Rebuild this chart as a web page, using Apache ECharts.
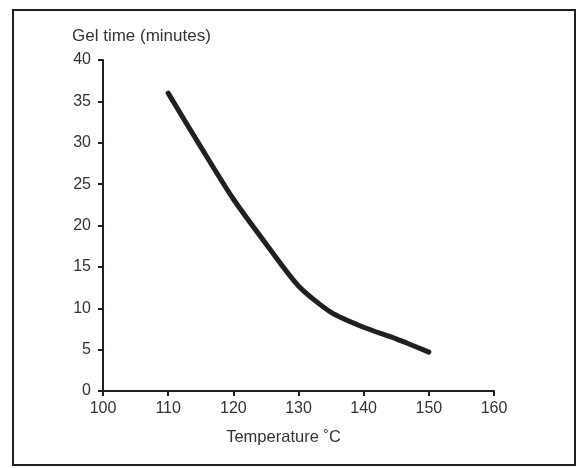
<!DOCTYPE html>
<html><head><meta charset="utf-8">
<script src="https://cdn.jsdelivr.net/npm/echarts@6/dist/echarts.min.js"></script>
<style>html,body{margin:0;padding:0;background:#fff}#c{width:579px;height:468px}</style>
</head><body><div id="c"></div>
<script>
const temperatures = [110, 115, 120, 125, 130, 135, 140, 145, 150];
const gelTimes = [36, 29.5, 23.2, 17.8, 12.7, 9.5, 7.7, 6.3, 4.7];
const xTitle = 'Temperature ˚C';
const yTitle = 'Gel time (minutes)';

const ink = '#231f20';
const textInk = '#333';
const font = '"Liberation Sans", Arial, sans-serif';
const chart = echarts.init(document.getElementById('c'));
chart.setOption({
  backgroundColor: '#fff',
  animation: false,
  title: { text: yTitle, left: 72, top: 28, padding: 0, textStyle: { fontFamily: font, fontSize: 17, fontWeight: 'normal', color: textInk } },
  graphic: [{ type: 'rect', shape: { x: 13, y: 10, width: 562, height: 455 }, style: { fill: 'none', stroke: ink, lineWidth: 2 } }],
  grid: { left: 103, right: 85, top: 60, bottom: 77 },
  xAxis: {
    type: 'value', min: 100, max: 160, interval: 10,
    name: xTitle, nameLocation: 'middle', nameGap: 38,
    nameTextStyle: { fontFamily: font, fontSize: 16.5, color: textInk, padding: [0, 30, 0, 0] },
    axisLine: { show: true, lineStyle: { color: ink, width: 2 } },
    axisTick: { show: true, length: 5, lineStyle: { color: ink, width: 2 } },
    axisLabel: { fontFamily: font, fontSize: 16, color: textInk, margin: 10 },
    splitLine: { show: false }
  },
  yAxis: {
    type: 'value', min: 0, max: 40, interval: 5,
    axisLine: { show: true, lineStyle: { color: ink, width: 2 } },
    axisTick: { show: true, length: 5, lineStyle: { color: ink, width: 2 } },
    axisLabel: { fontFamily: font, fontSize: 16, color: textInk, margin: 12 },
    splitLine: { show: false }
  },
  series: [{
    type: 'line', data: temperatures.map((t, i) => [t, gelTimes[i]]),
    smooth: 0.25, showSymbol: false,
    lineStyle: { color: ink, width: 5, cap: 'round', join: 'round' }
  }]
});
</script></body></html>
